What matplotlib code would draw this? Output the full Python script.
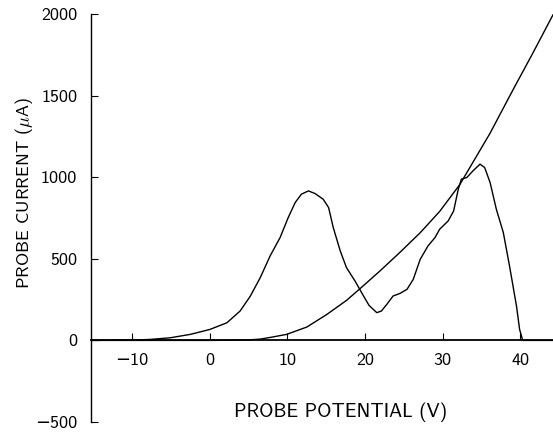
import numpy as np
import matplotlib
matplotlib.use("Agg")
import matplotlib.pyplot as plt

plt.rcParams['font.family'] = ['cmss10', 'DejaVu Sans']
plt.rcParams['mathtext.fontset'] = 'cm'
plt.rcParams['font.size'] = 13

# I-V characteristic (probe current vs potential)
iv_volts = [-15.3, -5, 0, 3, 5, 6.5, 8, 9.9, 12.5, 15.1, 17.6, 19.3, 21.9,
            24.5, 27.1, 29.6, 32.2, 34.8, 36.1, 39.1, 41.6, 44.2]
iv_current = [0, 0, 0, 1, 3, 8, 20, 37, 82, 160, 245, 315, 425,
              540, 660, 790, 955, 1165, 1270, 1540, 1760, 1995]

# derivative-like trace
d_volts = [-15.3, -10, -7.7, -5.1, -2.5, 0, 2.2, 3.9, 5.2, 6.5, 7.76, 9.05,
           10.1, 11.0, 11.8, 12.7, 13.55, 14.6, 15.3, 15.9, 16.8, 17.6, 18.7,
           19.8, 20.5, 21.5, 22.1, 22.8, 23.6, 24.5, 25.4, 26.2, 27.1, 28.1,
           29.0, 29.6, 30.7, 31.4, 32.0, 32.4, 33.1, 33.9, 34.8, 35.4, 36.1,
           36.9, 37.8, 38.6, 39.5, 39.9, 40.3, 44.2]
d_current = [0, 2, 6, 16, 37, 67, 108, 180, 270, 385, 517, 630,
             753, 845, 896, 916, 900, 865, 814, 691, 548, 446, 364,
             272, 215, 170, 180, 221, 272, 288, 313, 374, 497, 579,
             630, 681, 732, 793, 926, 988, 998, 1039, 1080, 1059, 967,
             804, 661, 456, 210, 67, 0, 0]

fig = plt.figure(figsize=(5.53, 4.33), dpi=100)
ax = fig.add_axes([0.1646, 0.0254, 0.8354, 0.9423])

ax.plot(iv_volts, iv_current, color='black', lw=1.0)
ax.plot(d_volts, d_current, color='black', lw=1.0)

ax.set_xlim(-15.3, 44.2)
ax.set_ylim(-500, 2000)

ax.spines['top'].set_visible(False)
ax.spines['right'].set_visible(False)
ax.spines['bottom'].set_position(('data', 0))
ax.spines['bottom'].set_linewidth(1.3)
ax.spines['left'].set_linewidth(1.0)

ax.set_xticks([-10, 0, 10, 20, 30, 40])
ax.set_yticks([-500, 0, 500, 1000, 1500, 2000])
ax.tick_params(axis='x', direction='in', length=5, pad=9)
ax.tick_params(axis='y', direction='in', length=5, pad=10)

fig.text(24 / 553, 1 - 193 / 433, r'PROBE CURRENT ($\mu$A)', rotation=90,
         ha='center', va='center')
fig.text(341 / 553, 1 - 412 / 433, 'PROBE POTENTIAL (V)', fontsize=14,
         ha='center', va='center')

fig.savefig('out.png', dpi=100)
